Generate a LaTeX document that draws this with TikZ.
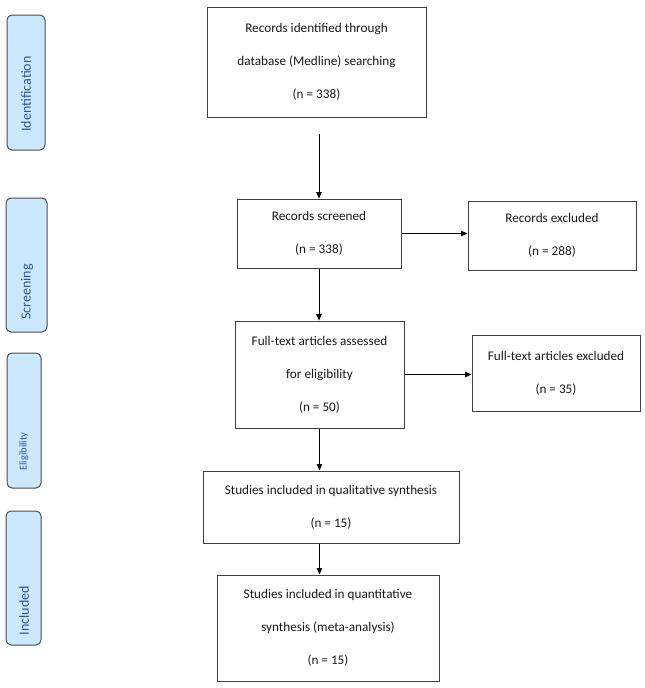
\documentclass[tikz,border=0pt]{standalone}
\usepackage{fontspec}
\setmainfont{Carlito}
\usetikzlibrary{arrows.meta}
\definecolor{stagefill}{RGB}{204,232,255}
\definecolor{stagetext}{RGB}{47,85,151}
\begin{document}
\begin{tikzpicture}[x=1pt,y=-1pt,
  flowbox/.style={draw=black!75, line width=1pt, align=center, inner sep=0pt, text=black!90, font=\fontsize{13.2}{33}\selectfont},
  stagebox/.style={draw=black!70, fill=stagefill, rounded corners=5pt, line width=1pt, inner sep=0pt},
  stagelabel/.style={rotate=90, text=stagetext, inner sep=0pt, font=\fontsize{14}{16}\selectfont},
  flowarrow/.style={line width=1pt, -{Triangle[length=6.5pt,width=5.5pt]}}]
\useasboundingbox (0,0) rectangle (645,688);

% stages on the left
\node[stagebox, minimum width=38, minimum height=135] (idstage) at (26,82.5) {};
\node[stagebox, minimum width=41, minimum height=134] (scrstage) at (26.5,265) {};
\node[stagebox, minimum width=34, minimum height=135] (elstage) at (24,420.5) {};
\node[stagebox, minimum width=35, minimum height=134] (incstage) at (23.5,578) {};
\node[stagelabel] (idlabel) at (26,94) {Identification};
\node[stagelabel] (scrlabel) at (27,292) {Screening};
\node[stagelabel, font=\fontsize{10.5}{12}\selectfont] (ellabel) at (24,451.5) {Eligibility};
\node[stagelabel] (inclabel) at (24,610.5) {Included};

% flow boxes
\node[flowbox, minimum width=219, minimum height=110] (ident) at (316.5,62)
  {Records identified through\\database (Medline) searching\\(n = 338)};
\node[flowbox, minimum width=164, minimum height=69] (screen) at (319,233.5)
  {Records screened\\(n = 338)};
\node[flowbox, minimum width=168, minimum height=69] (recexcl) at (552,235.5)
  {Records excluded\\(n = 288)};
\node[flowbox, minimum width=169, minimum height=107] (assess) at (319.5,374.5)
  {Full-text articles assessed\\for eligibility\\(n = 50)};
\node[flowbox, minimum width=168, minimum height=76] (ftexcl) at (556,373)
  {Full-text articles excluded\\(n = 35)};
\node[flowbox, minimum width=256, minimum height=72] (qual) at (331,507)
  {Studies included in qualitative synthesis\\(n = 15)};
\node[flowbox, minimum width=222, minimum height=106] (quant) at (328,628)
  {Studies included in quantitative\\synthesis (meta-analysis)\\(n = 15)};

% arrows
\draw[flowarrow, shorten <=16pt] (ident.south -| screen.north) -- (screen.north);
\draw[flowarrow] (screen.east) -- (screen.east -| recexcl.west);
\draw[flowarrow] (screen.south) -- (screen.south |- assess.north);
\draw[flowarrow] (assess.east) -- (assess.east -| ftexcl.west);
\draw[flowarrow] (assess.south) -- (assess.south |- qual.north);
\draw[flowarrow] (qual.south -| assess.south) -- (quant.north -| assess.south);
\end{tikzpicture}
\end{document}
